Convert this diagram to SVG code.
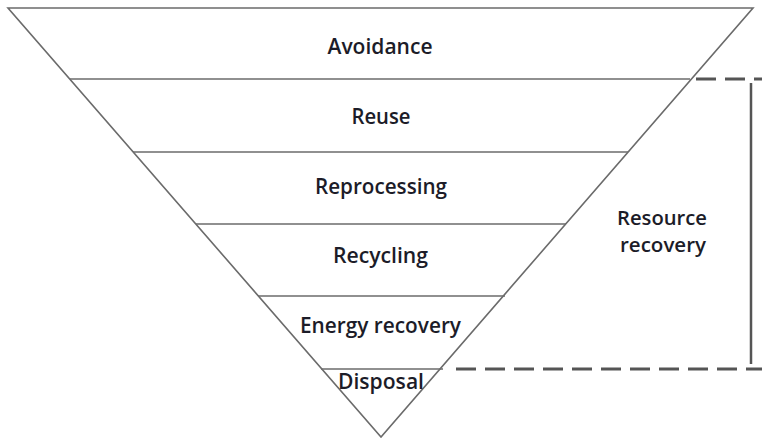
<svg xmlns="http://www.w3.org/2000/svg" width="762" height="439" viewBox="0 0 762 439">
<style>
.edge{stroke:#6b6b6b;stroke-width:1.6;fill:none}
.dash{stroke:#555;stroke-width:3;fill:none;stroke-dasharray:20 9}
.brace{stroke:#555;stroke-width:2.5;fill:none}
.lbl{font-family:"Open Sans","DejaVu Sans",sans-serif;font-size:22px;font-weight:600;fill:#1c1c28;text-anchor:middle}
.side{font-size:19px}
</style>
<rect width="762" height="439" fill="#fff"/>
<g id="pyramid">
<polygon class="edge" points="8,8 753,8 381,437"/>
</g>
<g id="avoidance"><text class="lbl" x="380" y="54" textLength="105" lengthAdjust="spacingAndGlyphs">Avoidance</text></g>
<g id="reuse"><line class="edge" x1="70" y1="79" x2="690" y2="79"/><text class="lbl" x="381" y="124" textLength="59" lengthAdjust="spacingAndGlyphs">Reuse</text></g>
<g id="reprocessing"><line class="edge" x1="133" y1="152" x2="628" y2="152"/><text class="lbl" x="381" y="194" textLength="132" lengthAdjust="spacingAndGlyphs">Reprocessing</text></g>
<g id="recycling"><line class="edge" x1="196" y1="224" x2="566" y2="224"/><text class="lbl" x="380.5" y="263" textLength="95" lengthAdjust="spacingAndGlyphs">Recycling</text></g>
<g id="energy-recovery"><line class="edge" x1="258" y1="296" x2="505" y2="296"/><text class="lbl" x="380.5" y="333" textLength="161" lengthAdjust="spacingAndGlyphs">Energy recovery</text></g>
<g id="disposal"><line class="edge" x1="321" y1="369" x2="443" y2="369"/><text class="lbl" x="381" y="389" textLength="86" lengthAdjust="spacingAndGlyphs">Disposal</text></g>
<g id="connectors">
<line class="dash" x1="696" y1="79" x2="762" y2="79"/>
<line class="dash" x1="456" y1="369" x2="762" y2="369"/>
<line class="brace" x1="751" y1="83" x2="751" y2="364"/>
</g>
<g id="resource-recovery">
<text class="lbl side" x="662" y="225" textLength="90" lengthAdjust="spacingAndGlyphs">Resource</text>
<text class="lbl side" x="663" y="252" textLength="86" lengthAdjust="spacingAndGlyphs">recovery</text>
</g>
</svg>
